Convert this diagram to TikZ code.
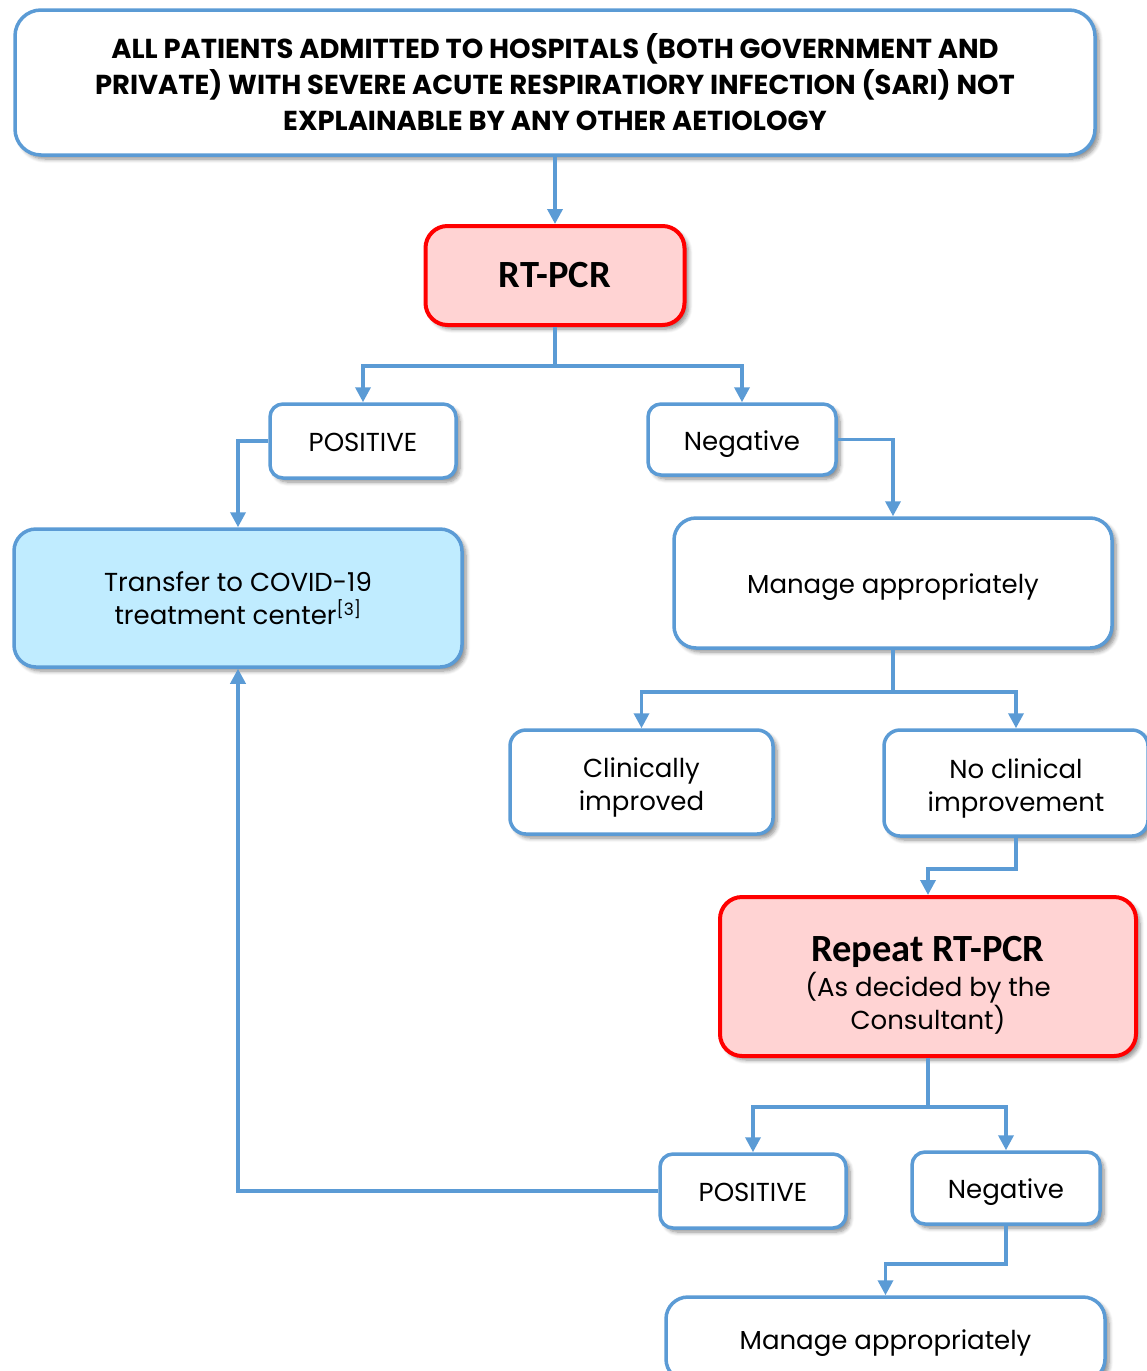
\documentclass[tikz,border=0pt]{standalone}
\usepackage{fontspec}
\setmainfont{Poppins}
\newfontfamily\calibfont{Carlito}
\usetikzlibrary{arrows.meta,shadows.blur}

\definecolor{edgeblue}{HTML}{5B9BD5}
\definecolor{alertred}{HTML}{FF0000}
\definecolor{pinkfill}{HTML}{FFD3D3}
\definecolor{skyfill}{HTML}{C0ECFF}

% invisible rule that gives the first line of a box extra room above it
\newcommand\headroom[1]{\rule{0pt}{#1}}

\tikzset{
  boxbase/.style={rectangle, draw=edgeblue, line width=3.5pt, fill=white,
    align=center, inner sep=0pt, text=black,
    blur shadow={shadow xshift=4pt, shadow yshift=-4pt, shadow blur steps=6, shadow opacity=45, shadow blur radius=4pt}},
  bodytext/.style={font=\fontsize{26}{33}\selectfont},
  oneline/.style={text height=21pt, text depth=0pt},
  smallbox/.style={boxbase, bodytext, rounded corners=13pt},
  bigbox/.style={boxbase, bodytext, rounded corners=22pt},
  redbox/.style={boxbase, draw=alertred, fill=pinkfill, line width=4pt, rounded corners=22pt},
  conn/.style={draw=edgeblue, line width=3.5pt, -{Triangle[length=15pt,width=15pt]}}
}

\begin{document}
\begin{tikzpicture}[x=1pt,y=1pt]
\useasboundingbox (0,0) rectangle (1147,-1371);
\clip (0,0) rectangle (1147,-1371);

% header box
\node[boxbase, rounded corners=26pt, minimum width=1080pt, minimum height=145pt,
  font=\bfseries\fontsize{27.4}{36}\selectfont] (top) at (555,-82.5)
  {ALL PATIENTS ADMITTED TO HOSPITALS (BOTH GOVERNMENT AND\\
   PRIVATE) WITH SEVERE ACUTE RESPIRATIORY INFECTION (SARI) NOT\\
   EXPLAINABLE BY ANY OTHER AETIOLOGY};

% first test
\node[redbox, minimum width=259pt, minimum height=99pt,
  font=\calibfont\bfseries\fontsize{38.5}{40}\selectfont] (rt) at (555,-275.5) {RT-PCR};

\node[smallbox, oneline, minimum width=186pt, minimum height=74pt] (pos1) at (363,-441) {POSITIVE};
\node[smallbox, oneline, minimum width=188pt, minimum height=71pt] (neg1) at (742,-439.5) {Negative};

\node[bigbox, fill=skyfill, minimum width=448pt, minimum height=138pt] (transfer) at (238,-598)
  {Transfer to COVID-19\\treatment center\textsuperscript{\fontsize{17}{17}\selectfont[3]}};

\node[bigbox, oneline, minimum width=438pt, minimum height=130pt] (man1) at (893,-583) {Manage appropriately};

\node[smallbox, rounded corners=16pt, minimum width=263pt, minimum height=104pt] (clin) at (641.5,-782)
  {\headroom{31pt}Clinically\\improved};
\node[smallbox, rounded corners=16pt, minimum width=264pt, minimum height=106pt] (noclin) at (1016,-783)
  {\headroom{31pt}No clinical\\improvement};

% repeat test
\node[redbox, bodytext, minimum width=416pt, minimum height=159pt] (rep) at (928,-976.5)
  {\headroom{42pt}{\calibfont\bfseries\fontsize{38.5}{40}\selectfont Repeat RT-PCR}\\[2pt]
   (As decided by the\\Consultant)};

\node[smallbox, oneline, minimum width=186pt, minimum height=74pt] (pos2) at (753,-1191) {POSITIVE};
\node[smallbox, oneline, minimum width=188pt, minimum height=72pt] (neg2) at (1006,-1188) {Negative};

\node[bigbox, oneline, minimum width=439pt, minimum height=84pt] (man2) at (885.5,-1339) {Manage appropriately};

% connectors
\draw[conn] (top.south) -- (rt.north);
\draw[conn] (rt.south) -- ++(0,-39) -| (pos1.north);
\draw[conn] (rt.south) -- ++(0,-39) -| (neg1.north);
\draw[conn] (pos1.west) -| (transfer.north);
\draw[conn] (neg1.east) -| (man1.north);
\draw[conn] (man1.south) -- ++(0,-42) -| (clin.north);
\draw[conn] (man1.south) -- ++(0,-42) -| (noclin.north);
\draw[conn] (noclin.south) -- ++(0,-31) -| (rep.north);
\draw[conn] (rep.south) -- ++(0,-49) -| (pos2.north);
\draw[conn] (rep.south) -- ++(0,-49) -| (neg2.north);
\draw[conn] (pos2.west) -| (transfer.south);
\draw[conn] (neg2.south) -- ++(0,-38) -| (man2.north);
\end{tikzpicture}
\end{document}
